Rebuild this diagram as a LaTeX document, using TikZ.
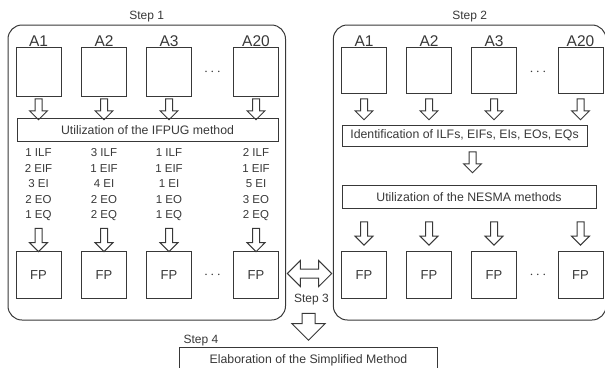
\documentclass[tikz,border=0pt]{standalone}
\usepackage{fontspec}
\setmainfont{Liberation Sans}
\usetikzlibrary{positioning,shapes.arrows}

\newcommand{\fsz}[1]{\fontsize{#1}{#1}\selectfont}

\begin{document}
\begin{tikzpicture}[x=1pt,y=-1pt,line width=1pt,color=black!78,
  frame/.style={draw,rounded corners=14pt,minimum height=295pt,inner sep=0pt},
  sq/.style={draw,minimum width=45pt,minimum height=48pt,inner sep=0pt,label distance=2pt,font=\fsz{13}},
  bar/.style={draw,inner sep=0pt,font=\fsz{12.3}},
  darr/.style={draw,single arrow,shape border rotate=270,single arrow head extend=5.5pt,
    single arrow head indent=0pt,inner sep=3pt},
  lab/.style={font=\fsz{15.5},inner sep=0pt},
  steplab/.style={font=\fsz{12},inner sep=0pt},
  cnt/.style={align=center,font=\fontsize{11.5}{15.4}\selectfont,inner sep=0pt},
  dots/.style={font=\fsz{15}}]

\useasboundingbox (0,0) rectangle (605,367);
\clip (0,0) rectangle (605,367);

% the two frames
\node[frame,minimum width=277.5pt] (fa) at (146.75,172.5) {};
\node[frame,minimum width=272.7pt] (fb) at (469.7,172.5) {};
\node[steplab,above=2pt of fa] (sa) {Step 1};
\node[steplab,above=2pt of fb] (sb) {Step 2};

% step 1
\foreach \x/\t [count=\i] in {38.5/A1,104/A2,169/A3,256/A20}{
  \node[sq,minimum height=48.7pt,label={[lab]above:\t}] (ia\i) at (\x,72.3) {};
  \node[darr,minimum height=21pt] (iv\i) at (\x,107.5) {};
  \node[darr,minimum height=23.3pt] (iw\i) at (\x,238.3) {};
  \node[sq,minimum height=46.5pt] (ifp\i) at (\x,275) {FP};
}
\node[dots] (ida) at (212.5,72) {$\cdots$};
\node[dots] (idb) at (212.5,275) {$\cdots$};
\node[bar,minimum width=261pt,minimum height=23.3pt] (ifpug) at (147.5,130) {Utilization of the IFPUG method};
\node[cnt] (ca1) at (38.5,184.8) {1 ILF\\2 EIF\\3 EI\\2 EO\\1 EQ};
\node[cnt] (ca2) at (104,184.8) {3 ILF\\1 EIF\\4 EI\\2 EO\\2 EQ};
\node[cnt] (ca3) at (169,184.8) {1 ILF\\1 EIF\\1 EI\\1 EO\\1 EQ};
\node[cnt] (ca4) at (256,184.8) {2 ILF\\1 EIF\\5 EI\\3 EO\\2 EQ};

% step 2
\foreach \x/\t [count=\i] in {364/A1,429/A2,494/A3,580.5/A20}{
  \node[sq,minimum height=45.6pt,label={[lab]above:\t}] (na\i) at (\x,70.5) {};
  \node[darr,minimum height=21pt] (nv\i) at (\x,107.5) {};
  \node[darr,minimum height=23.3pt] (nw\i) at (\x,231.7) {};
  \node[sq,minimum height=46.5pt] (nfp\i) at (\x,275) {FP};
}
\node[dots] (nda) at (538,72) {$\cdots$};
\node[dots] (ndb) at (538,275) {$\cdots$};
\node[bar,minimum width=245pt,minimum height=21pt] (ident) at (464.5,135.5) {Identification of ILFs, EIFs, EIs, EOs, EQs};
\node[darr,minimum height=21pt] (nm) at (472.5,160.5) {};
\node[bar,minimum width=254pt,minimum height=23.3pt] (nesma) at (469,196.7) {Utilization of the NESMA methods};

% step 3 and step 4
\node[draw,double arrow,double arrow head extend=8.5pt,double arrow head indent=0pt,
  minimum height=44.4pt,inner sep=4pt] (dbl) at (309.5,273.5) {};
\node[steplab,anchor=base] (sc) at (311.5,302.3) {Step 3};
\node[draw,single arrow,shape border rotate=270,single arrow head extend=10.25pt,
  single arrow head indent=0pt,minimum height=27pt,inner sep=6pt] (dn) at (308.5,323.5) {};
\node[draw,anchor=north,minimum width=258.5pt,inner xsep=0pt,inner ysep=7.5pt,text depth=12pt,
  font=\fsz{12.3}] (elab) at (308.5,346.7) {Elaboration of the Simplified Method};
\node[steplab,anchor=base west] (sd) at (183,343.3) {Step 4};
\end{tikzpicture}
\end{document}
